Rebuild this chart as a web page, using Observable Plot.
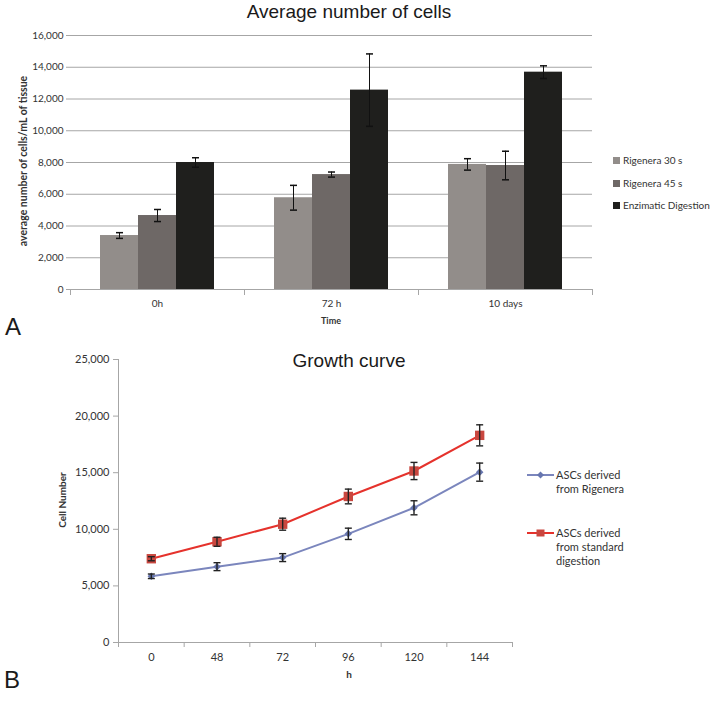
<!DOCTYPE html>
<html><head><meta charset="utf-8">
<script src="https://cdn.jsdelivr.net/npm/d3@7"></script>
<script src="https://cdn.jsdelivr.net/npm/@observablehq/plot@0.6"></script>
<style>
body{margin:0;background:#fff;}
#root{position:relative;width:712px;height:701px;overflow:hidden;background:#fff;font-family:Lato,sans-serif;}
.abs{position:absolute;white-space:nowrap;}
.title{font-family:"Liberation Sans",Arial,sans-serif;font-size:19px;color:#1a1a1a;width:698px;left:0;text-align:center;line-height:20px;}
.panel{font-family:"Liberation Sans",Arial,sans-serif;font-size:24px;color:#1a1a1a;line-height:24px;}
.axt{font-weight:bold;color:#333;transform:translate(-50%,-50%);}
.leg{font-size:10px;color:#333;line-height:12px;}
.legB{font-size:11px;color:#333;line-height:14px;}
</style></head>
<body><div id="root"></div>
<script>
// ---------- Panel A data ----------
const times = ["0h", "72 h", "10 days"];
const seriesA = ["Rigenera 30 s", "Rigenera 45 s", "Enzimatic Digestion"];
const rig30 = [3400, 5780, 7880];
const rig30Err = [180, 780, 360];
const rig45 = [4660, 7240, 7810];
const rig45Err = [380, 160, 900];
const enzim = [8000, 12560, 13690];
const enzimErr = [300, 2280, 400];
const yTicksA = [0, 2000, 4000, 6000, 8000, 10000, 12000, 14000, 16000];
const colorsA = ["#928d8a", "#6e6866", "#1f1f1d"];
const titleA = "Average number of cells";
const yLabelA = "average number of cells/mL of tissue";
const xLabelA = "Time";

// ---------- Panel B data ----------
const hours = ["0", "48", "72", "96", "120", "144"];
const seriesB = [["ASCs derived", "from Rigenera"], ["ASCs derived", "from standard", "digestion"]];
const rigenera = [5850, 6700, 7500, 9600, 11900, 15050];
const rigeneraErr = [200, 350, 350, 500, 620, 800];
const standard = [7400, 8900, 10450, 12900, 15150, 18300];
const standardErr = [180, 400, 530, 650, 760, 930];
const yTicksB = [0, 5000, 10000, 15000, 20000, 25000];
const titleB = "Growth curve";
const yLabelB = "Cell Number";
const xLabelB = "h";

const root = document.getElementById("root");
const gray = "#a6a6a6";
const cap = {draw(ctx, size) { const w = Math.sqrt(size / Math.PI); ctx.moveTo(-w, 0); ctx.lineTo(w, 0); }};

function addDiv(cls, text, css) {
  const d = document.createElement("div");
  d.className = "abs " + cls;
  d.textContent = text;
  Object.assign(d.style, css);
  root.appendChild(d);
  return d;
}

// ---------- Panel A ----------
const rowsA = [];
const valsA = [[rig30, rig30Err], [rig45, rig45Err], [enzim, enzimErr]];
times.forEach((t, i) => valsA.forEach(([v, e], j) => rowsA.push({time: t, series: seriesA[j], value: v[i], err: e[i]})));

const plotA = Plot.plot({
  width: 712, height: 330,
  marginTop: 35, marginBottom: 41, marginLeft: 70, marginRight: 120,
  style: {fontFamily: "Lato, sans-serif", fontSize: "10px", color: "#333", background: "transparent"},
  fx: {domain: times, padding: 0},
  x: {domain: seriesA, paddingInner: 0, paddingOuter: 0.74, axis: null},
  y: {domain: [0, 16000]},
  color: {domain: seriesA, range: colorsA},
  marks: [
    Plot.gridY(yTicksA, {stroke: gray, strokeOpacity: 1}),
    Plot.axisY(yTicksA, {tickFormat: d3.format(","), tickSize: 4, tickPadding: 3, stroke: gray, label: null, line: true}),
    Plot.axisFx({anchor: "bottom", tickSize: 0, tickPadding: 10, label: null}),
    Plot.frame({anchor: "left", insetTop: 254, insetBottom: -5, stroke: gray}),
    Plot.frame({anchor: "right", insetTop: 254, insetBottom: -5, stroke: gray}),
    Plot.ruleY([0], {stroke: gray}),
    Plot.barY(rowsA, {fx: "time", x: "series", y: "value", fill: "series"}),
    Plot.ruleX(rowsA, {fx: "time", x: "series", y1: d => d.value - d.err, y2: d => d.value + d.err, stroke: "#111"}),
    Plot.dot(rowsA, {fx: "time", x: "series", y: d => d.value - d.err, symbol: cap, r: 3.5, stroke: "#111", fill: "none"}),
    Plot.dot(rowsA, {fx: "time", x: "series", y: d => d.value + d.err, symbol: cap, r: 3.5, stroke: "#111", fill: "none"})
  ]
});
plotA.style.position = "absolute"; plotA.style.left = "0px"; plotA.style.top = "0px";
root.appendChild(plotA);

addDiv("title", titleA, {top: "2px"});
addDiv("axt", yLabelA, {left: "23px", top: "161px", fontSize: "10.5px", transform: "translate(-50%,-50%) rotate(-90deg)"});
addDiv("axt", xLabelA, {left: "331px", top: "320px", fontSize: "9px"});
seriesA.forEach((s, j) => {
  const y = [160, 183, 205][j];
  addDiv("", "", {left: "613px", top: (y - 3.5) + "px", width: "7px", height: "7px", background: colorsA[j]});
  addDiv("leg", s, {left: "623px", top: (y - 6.5) + "px"});
});
addDiv("panel", "A", {left: "5px", top: "315px"});

// ---------- Panel B ----------
const rowsRig = hours.map((h, i) => ({i, hour: h, value: rigenera[i], err: rigeneraErr[i]}));
const rowsStd = hours.map((h, i) => ({i, hour: h, value: standard[i], err: standardErr[i]}));
const blueLine = "#7b86bd", blueDot = "#6776af", redLine = "#e5322c", redDot = "#c9473f";

const errMarks = rows => [
  Plot.ruleX(rows, {x: "i", y1: d => d.value - d.err, y2: d => d.value + d.err, stroke: "#222", strokeWidth: 1.4}),
  Plot.dot(rows, {x: "i", y: d => d.value - d.err, symbol: cap, r: 3.5, stroke: "#222", strokeWidth: 1.4, fill: "none"}),
  Plot.dot(rows, {x: "i", y: d => d.value + d.err, symbol: cap, r: 3.5, stroke: "#222", strokeWidth: 1.4, fill: "none"})
];

const plotB = Plot.plot({
  width: 712, height: 371,
  marginTop: 29, marginBottom: 59, marginLeft: 118, marginRight: 200,
  style: {fontFamily: "Lato, sans-serif", fontSize: "11px", color: "#333", background: "transparent"},
  x: {domain: [-0.5, hours.length - 0.5]},
  y: {domain: [0, 25000]},
  marks: [
    Plot.ruleY([0], {stroke: gray}),
    Plot.ruleX([-0.5], {stroke: gray}),
    Plot.axisY(yTicksB, {tickFormat: d3.format(","), tickSize: 5, tickPadding: 4, stroke: gray, label: null, line: true}),
    Plot.axisX(d3.range(hours.length), {tickFormat: i => hours[i], tickSize: 0, tickPadding: 11, label: null}),
    Plot.axisX(d3.range(hours.length + 1).map(k => k - 0.5), {tickFormat: () => "", tickSize: 5, stroke: gray, label: null}),
    Plot.line(rowsRig, {x: "i", y: "value", stroke: blueLine, strokeWidth: 2}),
    Plot.line(rowsStd, {x: "i", y: "value", stroke: redLine, strokeWidth: 2}),
    Plot.dot(rowsRig, {x: "i", y: "value", symbol: "diamond2", r: 3.4, fill: blueDot}),
    Plot.dot(rowsStd, {x: "i", y: "value", symbol: "square", r: 5.3, fill: redDot}),
    ...errMarks(rowsRig),
    ...errMarks(rowsStd)
  ]
});
plotB.style.position = "absolute"; plotB.style.left = "0px"; plotB.style.top = "330px";
root.appendChild(plotB);

addDiv("title", titleB, {top: "351px"});
addDiv("axt", yLabelB, {left: "62px", top: "500px", fontSize: "10px", transform: "translate(-50%,-50%) rotate(-90deg)"});
addDiv("axt", xLabelB, {left: "349px", top: "674px", fontSize: "10px"});
addDiv("panel", "B", {left: "4px", top: "668px"});

// legend B
const legY = [475, 533];
const legStyles = [[blueLine, blueDot, "diamond"], [redLine, redDot, "square"]];
seriesB.forEach((lines, k) => {
  const y = legY[k];
  const [lc, dc, shape] = legStyles[k];
  const ns = "http://www.w3.org/2000/svg";
  const svg = document.createElementNS(ns, "svg");
  svg.setAttribute("width", 28); svg.setAttribute("height", 12);
  svg.style.position = "absolute"; svg.style.left = "527px"; svg.style.top = (y - 6) + "px";
  const ln = document.createElementNS(ns, "line");
  ln.setAttribute("x1", 0); ln.setAttribute("x2", 27); ln.setAttribute("y1", 6); ln.setAttribute("y2", 6);
  ln.setAttribute("stroke", lc); ln.setAttribute("stroke-width", 2);
  svg.appendChild(ln);
  const mk = document.createElementNS(ns, "path");
  mk.setAttribute("d", shape === "square" ? "M9.5,2.5h8v7h-8z" : "M13.5,2.5l3.5,3.5l-3.5,3.5l-3.5,-3.5z");
  mk.setAttribute("fill", dc);
  svg.appendChild(mk);
  root.appendChild(svg);
  const d = addDiv("legB", "", {left: "556px", top: (y - 7) + "px"});
  d.innerHTML = lines.map(s => s.replace(/&/g, "&amp;")).join("<br>");
});
</script>
</body></html>
